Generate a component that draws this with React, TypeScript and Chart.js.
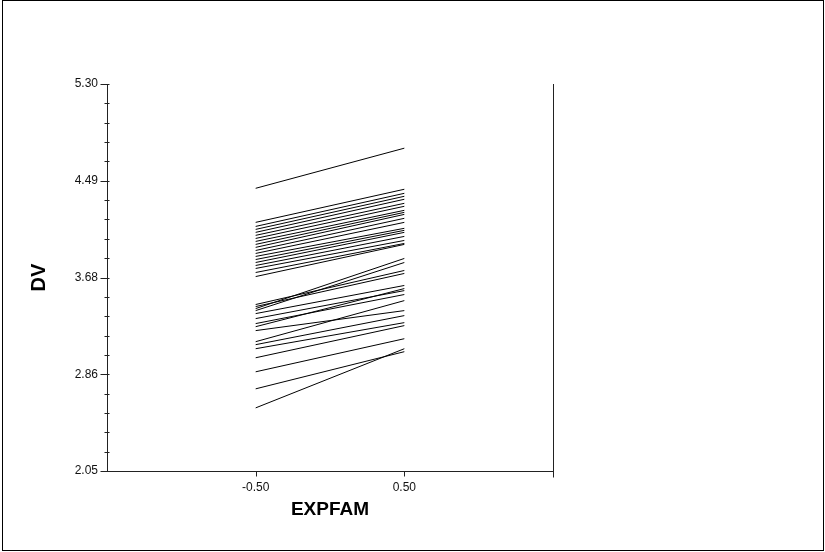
import React, { useEffect, useRef } from "react";
import { Chart, registerables } from "chart.js";

Chart.register(...registerables);

// x categories (EXPFAM levels)
const xLevels = [-0.5, 0.5];
const xTickLabels = ["-0.50", "0.50"];

// y axis range / labels
const yMin = 2.05;
const yMax = 5.3;
const yTickLabels = ["2.05", "2.86", "3.68", "4.49", "5.30"];

// DV at EXPFAM = -0.50 (one value per case)
const dvLow = [
  4.424, 4.138, 4.104, 4.079, 4.054, 4.029, 4.003, 3.978, 3.953, 3.928,
  3.902, 3.877, 3.852, 3.826, 3.801, 3.776, 3.751, 3.717, 3.683,
  3.448, 3.431, 3.414, 3.397, 3.372, 3.33, 3.288, 3.262, 3.229,
  3.136, 3.111, 3.077, 3.001, 2.883, 2.74, 2.58,
];

// DV at EXPFAM = 0.50
const dvHigh = [
  4.761, 4.416, 4.382, 4.357, 4.332, 4.298, 4.273, 4.239, 4.222, 4.205,
  4.172, 4.138, 4.088, 4.071, 4.054, 4.02, 3.986, 3.961, 3.953,
  3.734, 3.709, 3.835, 3.801, 3.608, 3.565, 3.532, 3.582, 3.397,
  3.481, 3.355, 3.296, 3.271, 3.161, 3.052, 3.077,
];

const AXIS = "#222";

const framePlugin = {
  id: "frameAndTicks",
  afterDraw(chart: any) {
    const { ctx, chartArea } = chart;
    const ys = chart.scales.y;
    const xs = chart.scales.x;
    ctx.save();
    ctx.strokeStyle = AXIS;
    ctx.lineWidth = 1;
    // y tick marks (major + minor)
    const axisX = Math.round(chartArea.left) + 0.5;
    const n = (yTickLabels.length - 1) * 5;
    for (let i = 0; i <= n; i++) {
      const v = yMin + ((yMax - yMin) * i) / n;
      const py = Math.round(ys.getPixelForValue(v)) + 0.5;
      const major = i % 5 === 0;
      ctx.beginPath();
      ctx.moveTo(axisX - (major ? 7 : 3), py);
      ctx.lineTo(axisX + 2, py);
      ctx.stroke();
    }
    // x tick marks
    const axisY = Math.round(chartArea.bottom) + 0.5;
    xLevels.forEach((v) => {
      const px = Math.round(xs.getPixelForValue(v)) + 0.5;
      ctx.beginPath();
      ctx.moveTo(px, axisY);
      ctx.lineTo(px, axisY + 5);
      ctx.stroke();
    });
    // right vertical line
    const rx = Math.round(chartArea.right) + 0.5;
    ctx.beginPath();
    ctx.moveTo(rx, Math.round(chartArea.top));
    ctx.lineTo(rx, axisY + 6);
    ctx.stroke();
    // outer frame
    ctx.strokeStyle = "#000";
    ctx.strokeRect(2.5, 0.5, 821, 550);
    ctx.restore();
  },
};

export default function App() {
  const ref = useRef<HTMLCanvasElement | null>(null);

  useEffect(() => {
    if (!ref.current) return;
    const datasets = dvLow.map((lo, i) => ({
      label: "case " + (i + 1),
      data: [
        { x: xLevels[0], y: lo },
        { x: xLevels[1], y: dvHigh[i] },
      ],
      showLine: true,
      borderColor: "#000",
      backgroundColor: "#000",
      borderWidth: 1,
      pointRadius: 0,
      fill: false,
    }));

    const chart = new Chart(ref.current, {
      type: "scatter",
      data: { datasets },
      options: {
        animation: false,
        responsive: false,
        layout: { padding: { top: 84, right: 272, left: 0, bottom: 0 } },
        plugins: { legend: { display: false }, tooltip: { enabled: false } },
        scales: {
          x: {
            type: "linear",
            min: -1.5,
            max: 1.5,
            afterBuildTicks: (s: any) => {
              s.ticks = xLevels.map((v) => ({ value: v }));
            },
            afterFit: (s: any) => {
              s.height = 81;
            },
            grid: { display: true, drawOnChartArea: false, drawTicks: false },
            border: { display: true, color: AXIS, width: 1 },
            ticks: {
              padding: 9,
              color: "#111",
              font: { family: "Arial, 'Liberation Sans'", size: 12 },
              callback: (v: any) => {
                const idx = xLevels.indexOf(Number(v));
                return idx >= 0 ? xTickLabels[idx] : "";
              },
            },
            title: {
              display: true,
              text: "EXPFAM",
              color: "#000",
              font: { family: "Arial, 'Liberation Sans'", size: 19, weight: "bold" },
              padding: { top: 0, bottom: 31 },
            },
          },
          y: {
            type: "linear",
            min: yMin,
            max: yMax,
            afterBuildTicks: (s: any) => {
              s.ticks = yTickLabels.map((_, i) => ({
                value: yMin + ((yMax - yMin) * i) / (yTickLabels.length - 1),
              }));
            },
            afterFit: (s: any) => {
              s.width = 107;
            },
            grid: { display: true, drawOnChartArea: false, drawTicks: false },
            border: { display: true, color: AXIS, width: 1 },
            ticks: {
              padding: 9,
              color: "#111",
              font: { family: "Arial, 'Liberation Sans'", size: 12 },
              callback: (_v: any, i: number) => yTickLabels[i],
            },
            title: {
              display: true,
              text: "DV",
              color: "#000",
              font: { family: "Arial, 'Liberation Sans'", size: 20, weight: "bold" },
              padding: { top: 27, bottom: 0 },
            },
          },
        },
      },
      plugins: [framePlugin],
    });
    return () => chart.destroy();
  }, []);

  return (
    <div style={{ position: "absolute", left: 0, top: 0, width: 825, height: 552, background: "#fff" }}>
      <canvas ref={ref} width={825} height={552} style={{ display: "block" }} />
    </div>
  );
}
